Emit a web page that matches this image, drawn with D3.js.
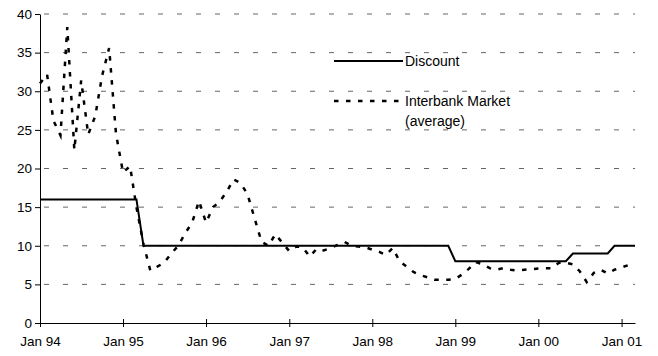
<!DOCTYPE html>
<html lang="en">
<head>
    <meta charset="UTF-8">
    <title>Discount and Interbank Rates</title>
    <script src="https://d3js.org/d3.v7.min.js"></script>
    <style>
        body { margin: 0; background: #fff; }
        text { font-family: "Liberation Sans", Arial, sans-serif; fill: #000; }
        .grid line { stroke: #666; stroke-width: 1px; stroke-dasharray: 5,14; }
        .axis path, .axis line { stroke: #000; stroke-width: 1px; }
        .discount { fill: none; stroke: #000; stroke-width: 2px; }
        .interbank { fill: none; stroke: #000; stroke-width: 2.5px; stroke-dasharray: 4.5,7.5; }
    </style>
</head>
<body>
<div id="chart"></div>
<script>
    const tickLabels = ['Jan 94', 'Jan 95', 'Jan 96', 'Jan 97', 'Jan 98', 'Jan 99', 'Jan 00', 'Jan 01'];
    const yTicks = [0, 5, 10, 15, 20, 25, 30, 35, 40];

    // monthly, Jan 94 .. Mar 01
    const discount = [
        16, 16, 16, 16, 16, 16, 16, 16, 16, 16, 16, 16,
        16, 16, 16, 10, 10, 10, 10, 10, 10, 10, 10, 10,
        10, 10, 10, 10, 10, 10, 10, 10, 10, 10, 10, 10,
        10, 10, 10, 10, 10, 10, 10, 10, 10, 10, 10, 10,
        10, 10, 10, 10, 10, 10, 10, 10, 10, 10, 10, 10,
        8, 8, 8, 8, 8, 8, 8, 8, 8, 8, 8, 8,
        8, 8, 8, 8, 8, 9, 9, 9, 9, 9, 9, 10,
        10, 10, 10
    ];

    // monthly, Jan 94 .. Feb 01
    const interbank = [
        31.0, 32.2, 26.2, 24.3, 38.3, 22.4, 31.4, 24.4, 26.8, 32.0, 35.6, 24.5,
        19.5, 20.3, 15.0, 10.2, 6.8, 7.3, 7.8, 9.0, 10.0, 11.6, 13.0, 15.8,
        13.0, 15.0, 15.7, 17.0, 18.6, 18.1, 16.7, 13.6, 10.5, 10.0, 11.5, 10.4,
        9.3, 9.9, 9.8, 8.6, 9.6, 9.4, 9.7, 10.1, 10.5, 10.0, 9.9, 9.8,
        9.5, 9.2, 8.8, 9.7, 8.0, 7.3, 6.6, 6.2, 5.9, 5.6, 5.6, 5.6,
        5.7, 6.3, 7.0, 7.9, 7.6, 7.1, 6.9, 7.1, 6.9, 6.8, 6.9, 6.95,
        7.05, 7.1, 7.1, 7.8, 7.8, 7.6, 6.7, 5.3, 6.5, 6.9, 6.4, 6.9,
        7.2, 7.5
    ];

    const start = new Date(1994, 0, 1);
    const end = new Date(2001, 2, 1);
    const month = i => d3.timeMonth.offset(start, i);

    const width = 658, height = 356;
    const svg = d3.select('#chart').append('svg')
        .attr('width', width)
        .attr('height', height);

    const x = d3.scaleTime().domain([start, end]).range([40, 635]);
    const y = d3.scaleLinear().domain([0, 40]).range([323, 14]);

    // gridlines
    svg.append('g')
        .attr('class', 'grid')
        .selectAll('line')
        .data(yTicks.filter(d => d > 0))
        .join('line')
        .attr('x1', x.range()[0] + 4)
        .attr('x2', x.range()[1])
        .attr('y1', d => y(d))
        .attr('y2', d => y(d));

    // y axis
    const yAxis = svg.append('g')
        .attr('class', 'axis')
        .attr('transform', `translate(${x.range()[0]},0)`)
        .call(d3.axisLeft(y).tickValues(yTicks).tickSize(5).tickSizeOuter(0));
    yAxis.selectAll('text')
        .attr('x', -8)
        .style('font-size', '13.5px');

    // x axis
    const xTickDates = tickLabels.map((d, i) => month(i * 12));
    const xAxis = svg.append('g')
        .attr('class', 'axis')
        .attr('transform', `translate(0,${y(0)})`)
        .call(d3.axisBottom(x).tickValues(xTickDates)
            .tickFormat((d, i) => tickLabels[i])
            .tickSize(4).tickSizeOuter(0));
    xAxis.selectAll('.tick line').attr('y1', -4);
    xAxis.selectAll('text')
        .attr('y', 13)
        .style('font-size', '13.5px');

    const line = d3.line()
        .x((d, i) => x(month(i)))
        .y(d => y(d));

    svg.append('path')
        .datum(interbank)
        .attr('class', 'interbank')
        .attr('d', line);

    svg.append('path')
        .datum(discount)
        .attr('class', 'discount')
        .attr('d', line);

    // legend
    const legend = svg.append('g');
    legend.append('line')
        .attr('class', 'discount')
        .attr('x1', 334).attr('x2', 403)
        .attr('y1', 61).attr('y2', 61);
    legend.append('text')
        .attr('x', 405).attr('y', 66)
        .style('font-size', '14px')
        .text('Discount');

    legend.append('line')
        .attr('class', 'interbank')
        .attr('x1', 334).attr('x2', 403)
        .attr('y1', 101).attr('y2', 101);
    legend.append('text')
        .attr('x', 405).attr('y', 106)
        .style('font-size', '14px')
        .text('Interbank Market');
    legend.append('text')
        .attr('x', 405).attr('y', 126)
        .style('font-size', '14px')
        .text('(average)');
</script>
</body>
</html>
